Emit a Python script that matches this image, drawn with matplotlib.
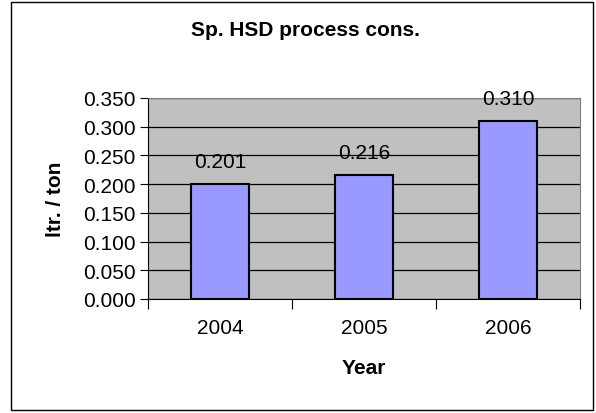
import matplotlib.pyplot as plt
from matplotlib.patches import Rectangle

plt.rcParams['font.family'] = ['Liberation Sans', 'DejaVu Sans']

# data
years = ['2004', '2005', '2006']
values = [0.201, 0.216, 0.310]
y_ticks = [0.0, 0.05, 0.10, 0.15, 0.20, 0.25, 0.30, 0.35]

fs = 15

fig = plt.figure(figsize=(5.96, 4.14), dpi=100)
ax = fig.add_axes([148 / 596, 114 / 414, 432 / 596, 201 / 414])

# outer chart border
fig.patches.append(Rectangle((11 / 596, 3 / 414), 582 / 596, 408 / 414,
                             transform=fig.transFigure, fill=False,
                             edgecolor='black', linewidth=1))

ax.set_facecolor('#C0C0C0')
x = range(len(years))
bars = ax.bar(x, values, width=0.4, color='#9999FF', edgecolor='black',
              linewidth=1.5, zorder=3)
for xi, v in zip(x, values):
    ax.annotate('%.3f' % v, (xi, v), xytext=(0, 16), textcoords='offset points',
                ha='center', va='center', fontsize=fs, zorder=4)

ax.set_ylim(0, 0.35)
ax.set_xlim(-0.5, 2.5)
ax.set_yticks(y_ticks)
ax.set_yticklabels(['%.3f' % t for t in y_ticks], fontsize=fs)
ax.yaxis.grid(True, color='black', linewidth=0.9, zorder=1)
ax.set_axisbelow(True)

# year labels centred in categories, ticks at category boundaries
ax.set_xticks([-0.5, 0.5, 1.5, 2.5])
ax.set_xticklabels([])
ax.set_xticks(list(x), minor=True)
ax.set_xticklabels(years, minor=True, fontsize=fs)
ax.tick_params(axis='x', which='minor', length=0, pad=14)
ax.tick_params(axis='x', which='major', length=7, direction='out')
ax.tick_params(axis='y', length=6, direction='out', pad=3)

ax.spines['top'].set_color('#808080')
ax.spines['right'].set_color('#808080')
ax.spines['left'].set_color('black')
ax.spines['bottom'].set_color('black')

ax.set_xlabel('Year', fontsize=fs, fontweight='bold', labelpad=15)
ax.set_ylabel('ltr. / ton', fontsize=fs, fontweight='bold', labelpad=13)
fig.text(305 / 596, 1 - 31 / 414, 'Sp. HSD process cons.', ha='center',
         va='center', fontsize=fs, fontweight='bold')

fig.savefig('out.png', dpi=100)
